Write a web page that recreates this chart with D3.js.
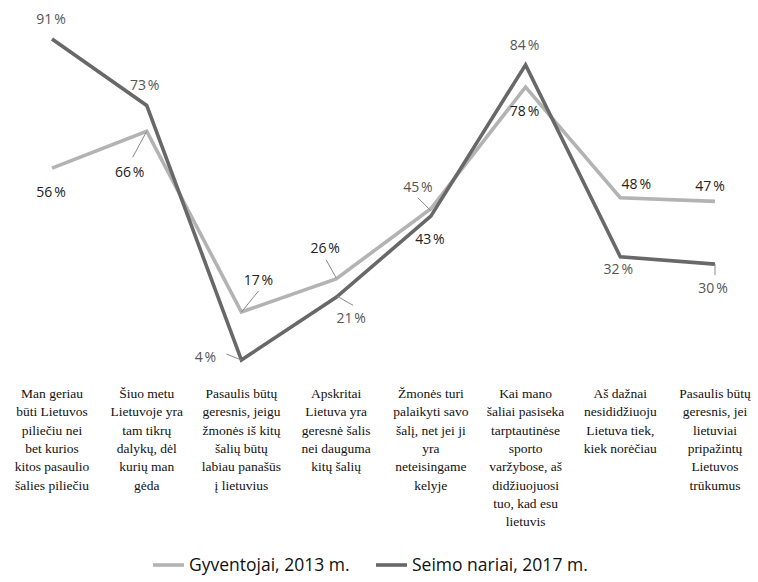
<!DOCTYPE html>
<html>
<head>
<meta charset="utf-8">
<script src="https://cdn.jsdelivr.net/npm/d3@7"></script>
<style>
  body { margin: 0; background: #fff; }
  svg { display: block; }
  .leader { stroke: #8a8a8a; stroke-width: 1; }
  .cat text { font-family: "Liberation Serif", "DejaVu Serif", "Times New Roman", Times, serif; }
</style>
</head>
<body>
<svg id="chart" width="758" height="582"></svg>
<script>
const categories = [
  ["Man geriau", "būti Lietuvos", "piliečiu nei", "bet kurios", "kitos pasaulio", "šalies piliečiu"],
  ["Šiuo metu", "Lietuvoje yra", "tam tikrų", "dalykų, dėl", "kurių man", "gėda"],
  ["Pasaulis būtų", "geresnis, jeigu", "žmonės iš kitų", "šalių būtų", "labiau panašūs", "į lietuvius"],
  ["Apskritai", "Lietuva yra", "geresnė šalis", "nei dauguma", "kitų šalių"],
  ["Žmonės turi", "palaikyti savo", "šalį, net jei ji", "yra", "neteisingame", "kelyje"],
  ["Kai mano", "šaliai pasiseka", "tarptautinėse", "sporto", "varžybose, aš", "didžiuojuosi", "tuo, kad esu", "lietuvis"],
  ["Aš dažnai", "nesididžiuoju", "Lietuva tiek,", "kiek norėčiau"],
  ["Pasaulis būtų", "geresnis, jei", "lietuviai", "pripažintų", "Lietuvos", "trūkumus"]
];
const gyventojai = [56, 66, 17, 26, 45, 78, 48, 47];
const seimas = [91, 73, 4, 21, 43, 84, 32, 30];
const seriesNames = ["Gyventojai, 2013 m.", "Seimo nariai, 2017 m."];

// label placement relative to each point
const gyvLabelPos = [
  { dx: -1, dy: 29, fill: "#222" },
  { dx: -17, dy: 46, fill: "#222", lead: [0, 0, -14, 26] },
  { dx: 17, dy: -27, fill: "#222", lead: [0, 0, 17, -21] },
  { dx: -11, dy: -26, fill: "#222", lead: [0, -1, -10, -19] },
  { dx: -13, dy: -17, fill: "#555", lead: [-13, -11, 0, 2] },
  { dx: -1, dy: 29, fill: "#222" },
  { dx: 16, dy: -9, fill: "#222" },
  { dx: -5, dy: -10, fill: "#222" }
];
const seiLabelPos = [
  { dx: -1, dy: -15, fill: "#555" },
  { dx: -2, dy: -15, fill: "#555" },
  { dx: -36, dy: 2, fill: "#555", lead: [-15, -6, 0, 0] },
  { dx: 15, dy: 26, fill: "#555", lead: [1, -1, 17, 8] },
  { dx: -1, dy: 28, fill: "#222" },
  { dx: -1, dy: -15, fill: "#555" },
  { dx: -2, dy: 17, fill: "#555" },
  { dx: -2, dy: 29, fill: "#555", lead: [0, 0, 0, 11] }
];

const colors = ["#b3b3b3", "#686868"];
const svg = d3.select("#chart");

const x = d3.scalePoint()
  .domain(d3.range(categories.length))
  .range([52, 715]);
const y = d3.scaleLinear()
  .domain([0, 100])
  .range([374.8, 5.8]);

const line = d3.line()
  .x((d, i) => x(i))
  .y(d => y(d));

const series = [gyventojai, seimas];
series.forEach((vals, s) => {
  svg.append("path")
    .datum(vals)
    .attr("fill", "none")
    .attr("stroke", colors[s])
    .attr("stroke-width", 3.6)
    .attr("d", line);
});

// value labels
[[gyventojai, gyvLabelPos], [seimas, seiLabelPos]].forEach(([vals, pos]) => {
  const g = svg.append("g")
    .attr("font-family", "'Open Sans', sans-serif")
    .attr("font-size", 14);
  vals.forEach((v, i) => {
    const px = x(i), py = y(v), p = pos[i];
    if (p.lead) {
      g.append("line")
        .attr("class", "leader")
        .attr("x1", px + p.lead[0]).attr("y1", py + p.lead[1])
        .attr("x2", px + p.lead[2]).attr("y2", py + p.lead[3]);
    }
    g.append("text")
      .attr("x", px + p.dx)
      .attr("y", py + p.dy)
      .attr("text-anchor", "middle")
      .attr("fill", p.fill)
      .text(v + "\u202F%");
  });
});

// category labels
const cats = svg.append("g")
  .attr("class", "cat")
  .attr("font-size", 13.5)
  .attr("fill", "#111");
categories.forEach((lines, i) => {
  const t = cats.append("text")
    .attr("text-anchor", "middle")
    .attr("x", x(i))
    .attr("y", 398);
  lines.forEach((ln, j) => {
    t.append("tspan")
      .attr("x", x(i))
      .attr("dy", j === 0 ? 0 : 18.3)
      .text(ln);
  });
});

// legend
const legX = [153, 376];
const leg = svg.append("g")
  .attr("font-family", "'Open Sans', sans-serif")
  .attr("font-size", 17.5)
  .attr("fill", "#111");
seriesNames.forEach((name, s) => {
  leg.append("line")
    .attr("x1", legX[s]).attr("x2", legX[s] + 31)
    .attr("y1", 565).attr("y2", 565)
    .attr("stroke", colors[s])
    .attr("stroke-width", 3.6);
  leg.append("text")
    .attr("x", legX[s] + 36)
    .attr("y", 571)
    .text(name);
});
</script>
</body>
</html>
